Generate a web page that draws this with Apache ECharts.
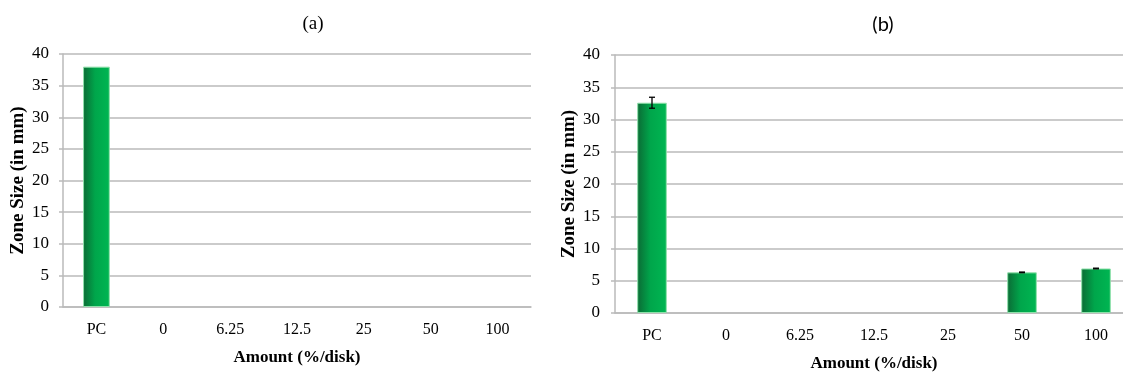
<!DOCTYPE html>
<html>
<head>
<meta charset="utf-8">
<title>Zone Size vs Amount</title>
<script src="https://cdn.jsdelivr.net/npm/echarts@6/dist/echarts.min.js"></script>
<style>
  html, body { margin: 0; padding: 0; background: #ffffff; overflow: hidden; width: 1123px; height: 377px; }
  #chart { width: 1135px; height: 377px; }
</style>
</head>
<body>
<div id="chart"></div>
<script>
// Test amounts on the category axis (PC = positive control)
const categories = ['PC', '0', '6.25', '12.5', '25', '50', '100'];

// Panel (a): zone of inhibition, mm
const zoneA = [38, 0, 0, 0, 0, 0, 0];

// Panel (b): zone of inhibition, mm, with standard deviation
const zoneB = [32.6, 0, 0, 0, 0, 6.3, 6.9];
const errB = [0.85, 0, 0, 0, 0, 0.05, 0.05];

// Value axis range shared by both panels
const yMin = 0;
const yMax = 40;
const yStep = 5;

const serif = 'Liberation Serif';
const gridColor = '#bababa';

const barFill = {
  type: 'linear', x: 0, y: 0, x2: 1, y2: 0,
  colorStops: [
    { offset: 0, color: '#0b6b35' },
    { offset: 0.45, color: '#00a64b' },
    { offset: 1, color: '#00b652' }
  ]
};

function barData(values) {
  return values.map(v => (v === 0 ? '-' : v));
}

function valueAxis(gridIndex, margin, nameGap) {
  return {
    type: 'value', gridIndex, min: yMin, max: yMax, interval: yStep,
    name: 'Zone Size (in mm)', nameLocation: 'middle', nameGap,
    nameTextStyle: { fontFamily: serif, fontWeight: 'bold', fontSize: 19, color: '#000' },
    axisLine: { show: true, lineStyle: { color: gridColor, width: 1.5 } },
    axisTick: { show: true, length: 4, lineStyle: { color: gridColor, width: 1.5 } },
    axisLabel: { margin, fontFamily: serif, fontSize: 17, color: '#000' },
    splitLine: { show: true, lineStyle: { color: gridColor, width: 1.5 } }
  };
}

function categoryAxis(gridIndex, nameGap) {
  return {
    type: 'category', gridIndex, data: categories,
    name: 'Amount (%/disk)', nameLocation: 'middle', nameGap,
    nameTextStyle: { fontFamily: serif, fontWeight: 'bold', fontSize: 17, color: '#000' },
    axisLine: { show: true, lineStyle: { color: gridColor, width: 1.5 } },
    axisTick: { show: false },
    axisLabel: { margin: 15, fontFamily: serif, fontSize: 16, color: '#000', interval: 0 },
    splitLine: { show: false }
  };
}

const errorData = categories
  .map((c, i) => [i, zoneB[i], errB[i]])
  .filter(d => d[2] > 0);

const chart = echarts.init(document.getElementById('chart'), null, { renderer: 'canvas' });

chart.setOption({
  backgroundColor: '#ffffff',
  animation: false,
  title: [
    { text: '(a)', left: 308, top: 10, textAlign: 'center',
      textStyle: { fontFamily: serif, fontWeight: 'normal', fontSize: 19, color: '#000' } },
    { text: '(b)', left: 878, top: 10, textAlign: 'center',
      textStyle: { fontFamily: 'Lato', fontWeight: 'normal', fontSize: 20, color: '#000' } }
  ],
  grid: [
    { left: 63, top: 54, width: 468, height: 253 },
    { left: 615, top: 55, width: 518, height: 262 }
  ],
  xAxis: [categoryAxis(0, 42), categoryAxis(1, 42)],
  yAxis: [valueAxis(0, 14, 35), valueAxis(1, 15, 36)],
  series: [
    {
      type: 'bar', xAxisIndex: 0, yAxisIndex: 0, barWidth: '40%',
      data: barData(zoneA),
      itemStyle: { color: barFill, borderColor: '#8fe0aa', borderWidth: 1 }
    },
    {
      type: 'bar', xAxisIndex: 1, yAxisIndex: 1, barWidth: '40%',
      data: barData(zoneB),
      itemStyle: { color: barFill, borderColor: '#8fe0aa', borderWidth: 1 }
    },
    {
      type: 'custom', xAxisIndex: 1, yAxisIndex: 1, z: 5,
      data: errorData,
      renderItem: function (params, api) {
        const x = api.value(0);
        const m = api.value(1);
        const e = api.value(2);
        const hi = api.coord([x, m + e]);
        const lo = api.coord([x, m - e]);
        const cap = 3;
        const style = { stroke: '#000', lineWidth: 1.3 };
        return {
          type: 'group',
          children: [
            { type: 'line', shape: { x1: hi[0], y1: hi[1], x2: lo[0], y2: lo[1] }, style },
            { type: 'line', shape: { x1: hi[0] - cap, y1: hi[1], x2: hi[0] + cap, y2: hi[1] }, style },
            { type: 'line', shape: { x1: lo[0] - cap, y1: lo[1], x2: lo[0] + cap, y2: lo[1] }, style }
          ]
        };
      }
    }
  ]
});
</script>
</body>
</html>
